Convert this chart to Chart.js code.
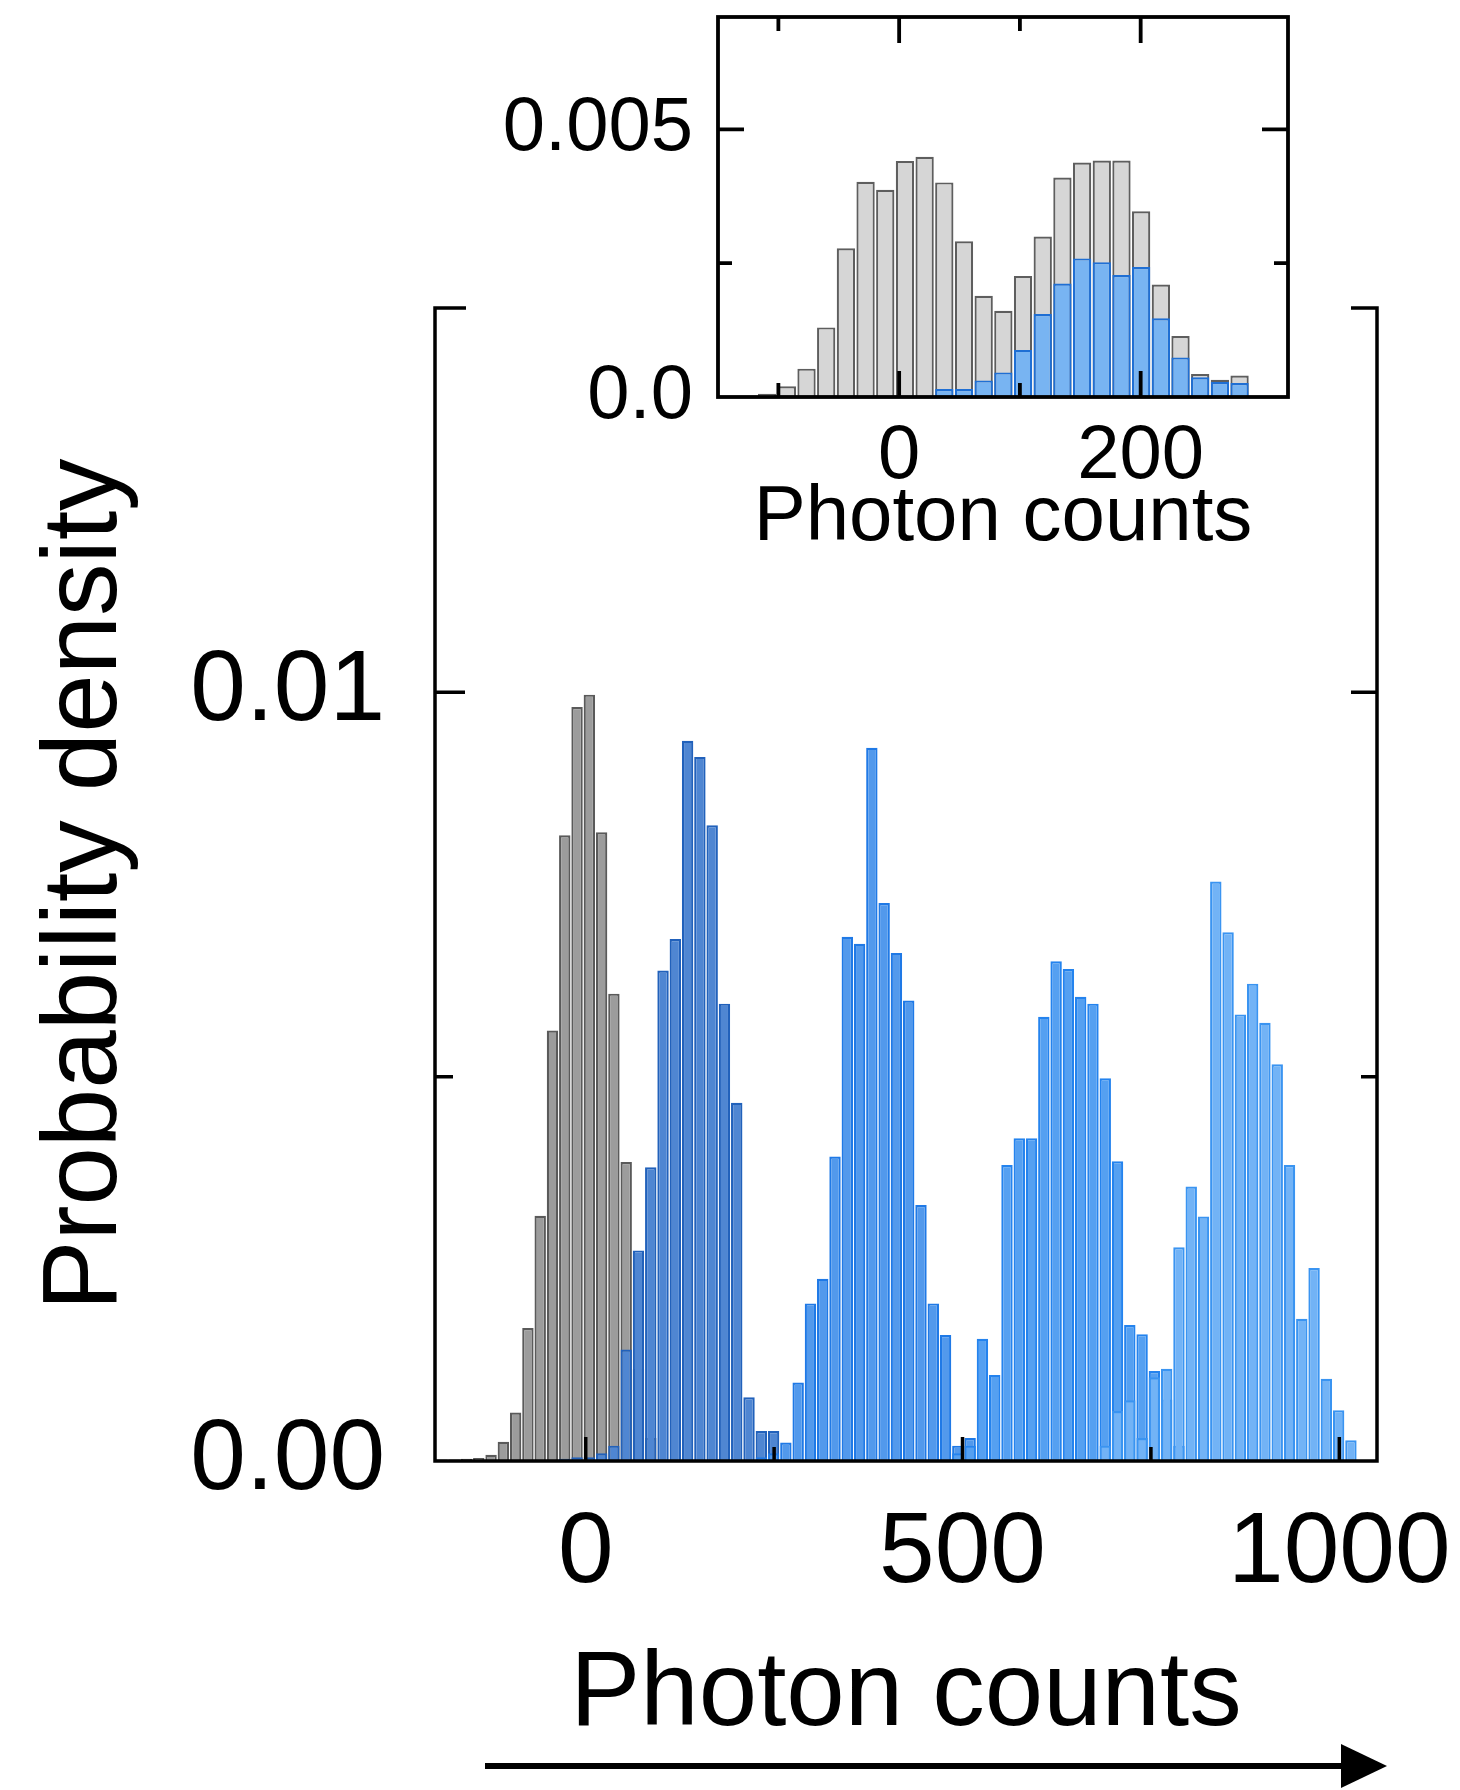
<!DOCTYPE html>
<html lang="en">
<head>
  <meta charset="UTF-8" />
  <title>Photon counts histogram</title>
  <script src="https://cdn.jsdelivr.net/npm/chart.js"></script>
  <style>
    body {
      margin: 0;
      background: #fff;
    }
    #wrap {
      position: relative;
      width: 1460px;
      height: 1790px;
    }
    #wrap canvas {
      position: absolute;
      left: 0;
      top: 0;
    }
  </style>
</head>
<body>

  <div id="wrap">
    <canvas id="mainChart" width="1460" height="1790"></canvas>
    <canvas id="insetChart" width="1460" height="600"></canvas>
  </div>

  <script>
    // histogram bins shared by every series: bin k is centred at binOrigin + k * binWidth
    const binOrigin = -11.5;
    const binWidth = 16.3;

    // main panel: first bin index of each series, then its densities
    const grayStart = -11;
    const grayDensity = [0.00002, 0.00002, 0.00003, 0.00004, 0.00008, 0.00025, 0.00063, 0.00173, 0.00319,
      0.0056, 0.00814, 0.00981, 0.00997, 0.00818, 0.00608, 0.00389, 0.0012, 0.0003];

    const blue1Start = -1;
    const blue1Density = [0.00003, 0.00005, 0.00005, 0.0001, 0.0002, 0.00145, 0.00274, 0.00382, 0.00638,
      0.00679, 0.00937, 0.00916, 0.00827, 0.00595, 0.00466, 0.00083, 0.00039, 0.00039];

    const blue2Start = 15;
    const blue2Density = [0.00005, 0.0001, 0.00024, 0.00102, 0.00205, 0.00237, 0.00396, 0.00682, 0.00673,
      0.00928, 0.00726, 0.00661, 0.00599, 0.00333, 0.00205, 0.00164, 0.0002, 0.0003];

    const blue3Start = 31;
    const blue3Density = [0.0001, 0.0002, 0.00159, 0.00112, 0.00385, 0.0042, 0.0042, 0.00578, 0.0065,
      0.0064, 0.00604, 0.00595, 0.00498, 0.0039, 0.00177, 0.00165, 0.00117, 0.0008, 0.0002];

    const blue4Start = 43;
    const blue4Density = [0.0002, 0.00065, 0.00079, 0.0003, 0.00109, 0.0012, 0.00278, 0.00357, 0.00318,
      0.00754, 0.00688, 0.00581, 0.00621, 0.0057, 0.00516, 0.00385, 0.00185, 0.00251, 0.00107, 0.00066, 0.00027];

    // inset panel
    const insetGrayStart = -6;
    const insetGrayDensity = [0.00006, 0.0002, 0.00053, 0.0013, 0.00278, 0.00402, 0.00387, 0.00441, 0.00449,
      0.00401, 0.00291, 0.00189, 0.00161, 0.00226, 0.003, 0.0041, 0.00438, 0.00442, 0.00442, 0.00347,
      0.0021, 0.00114, 0.00043, 0.00032, 0.0004];

    const insetBlueStart = 3;
    const insetBlueDensity = [0.00015, 0.00015, 0.00031, 0.00046, 0.00088, 0.00155, 0.00212, 0.00259,
      0.00252, 0.00228, 0.00243, 0.00147, 0.00074, 0.00037, 0.00028, 0.00026];

    // axes
    const mainXTicks = [0, 500, 1000];
    const mainXMinorTicks = [250, 750];
    const mainYTicks = [0, 0.01];
    const mainYTickLabels = ['0.00', '0.01'];
    const mainYMinorTicks = [0.005];
    const insetXTicks = [0, 200];
    const insetXMinorTicks = [-100, 100];
    const insetYTicks = [0, 0.005];
    const insetYTickLabels = ['0.0', '0.005'];
    const insetYMinorTicks = [0.0025];

    const FONT = "'Liberation Sans', Arial, sans-serif";

    function toPoints(start, values) {
      return values.map((v, i) => ({ x: binOrigin + (start + i) * binWidth, y: v }));
    }

    function histogram(start, values, fill, border, order) {
      return {
        data: toPoints(start, values),
        backgroundColor: fill,
        borderColor: border,
        borderWidth: 2.2,
        borderSkipped: 'bottom',
        grouped: false,
        barPercentage: 0.93,
        categoryPercentage: 1,
        order: order
      };
    }

    // keep chart areas where the figure has them: no label overhang padding
    function noOverhang(size, prop) {
      return s => {
        s[prop] = size;
        s.paddingLeft = 0;
        s.paddingRight = 0;
        s.paddingTop = 0;
        s.paddingBottom = 0;
      };
    }

    // inward tick marks, frame pieces and the arrow under the main panel
    const mainFrame = {
      id: 'mainFrame',
      afterDatasetsDraw(chart) {
        const { ctx, chartArea: a, scales: { x, y } } = chart;
        ctx.save();
        ctx.strokeStyle = '#000';
        ctx.lineWidth = 3.5;
        ctx.beginPath();
        ctx.moveTo(a.left + 31, a.top);
        ctx.lineTo(a.left, a.top);
        ctx.lineTo(a.left, a.bottom);
        ctx.lineTo(a.right, a.bottom);
        ctx.lineTo(a.right, a.top);
        ctx.lineTo(a.right - 26, a.top);
        mainYTicks.slice(1).forEach(v => {
          const py = y.getPixelForValue(v);
          ctx.moveTo(a.left, py); ctx.lineTo(a.left + 30, py);
          ctx.moveTo(a.right, py); ctx.lineTo(a.right - 26, py);
        });
        mainYMinorTicks.forEach(v => {
          const py = y.getPixelForValue(v);
          ctx.moveTo(a.left, py); ctx.lineTo(a.left + 18, py);
          ctx.moveTo(a.right, py); ctx.lineTo(a.right - 16, py);
        });
        mainXTicks.forEach(v => {
          const px = x.getPixelForValue(v);
          ctx.moveTo(px, a.bottom); ctx.lineTo(px, a.bottom - 24);
        });
        mainXMinorTicks.forEach(v => {
          const px = x.getPixelForValue(v);
          ctx.moveTo(px, a.bottom); ctx.lineTo(px, a.bottom - 14);
        });
        ctx.stroke();

        // arrow
        const ay = chart.height - 24;
        const tip = a.right + 10;
        ctx.lineWidth = 6;
        ctx.beginPath();
        ctx.moveTo(a.left + 50, ay);
        ctx.lineTo(tip - 40, ay);
        ctx.stroke();
        ctx.fillStyle = '#000';
        ctx.beginPath();
        ctx.moveTo(tip, ay);
        ctx.lineTo(tip - 46, ay - 22);
        ctx.lineTo(tip - 46, ay + 22);
        ctx.closePath();
        ctx.fill();
        ctx.restore();
      }
    };

    const insetFrame = {
      id: 'insetFrame',
      afterDatasetsDraw(chart) {
        const { ctx, chartArea: a, scales: { x, y } } = chart;
        ctx.save();
        ctx.strokeStyle = '#000';
        ctx.lineWidth = 3.8;
        ctx.strokeRect(a.left, a.top, a.right - a.left, a.bottom - a.top);
        ctx.beginPath();
        insetYTicks.slice(1).forEach(v => {
          const py = y.getPixelForValue(v);
          ctx.moveTo(a.left, py); ctx.lineTo(a.left + 26, py);
          ctx.moveTo(a.right, py); ctx.lineTo(a.right - 26, py);
        });
        insetYMinorTicks.forEach(v => {
          const py = y.getPixelForValue(v);
          ctx.moveTo(a.left, py); ctx.lineTo(a.left + 14, py);
          ctx.moveTo(a.right, py); ctx.lineTo(a.right - 14, py);
        });
        insetXTicks.forEach(v => {
          const px = x.getPixelForValue(v);
          ctx.moveTo(px, a.top); ctx.lineTo(px, a.top + 26);
          ctx.moveTo(px, a.bottom); ctx.lineTo(px, a.bottom - 26);
        });
        insetXMinorTicks.forEach(v => {
          const px = x.getPixelForValue(v);
          ctx.moveTo(px, a.top); ctx.lineTo(px, a.top + 14);
          ctx.moveTo(px, a.bottom); ctx.lineTo(px, a.bottom - 14);
        });
        ctx.stroke();
        ctx.restore();
      }
    };

    new Chart(document.getElementById('mainChart'), {
      type: 'bar',
      data: {
        datasets: [
          histogram(grayStart, grayDensity, '#9c9c9c', '#5a5a5a', 5),
          histogram(blue1Start, blue1Density, '#4f86d2', '#2161bb', 4),
          histogram(blue2Start, blue2Density, '#5299ec', '#1f79e6', 3),
          histogram(blue3Start, blue3Density, '#55a0f1', '#2483ee', 2),
          histogram(blue4Start, blue4Density, '#72b3f6', '#3a94f1', 1)
        ]
      },
      options: {
        responsive: false,
        animation: false,
        layout: { padding: { top: 308, right: 83, left: 0, bottom: 0 } },
        plugins: { legend: { display: false }, tooltip: { enabled: false } },
        scales: {
          x: {
            type: 'linear',
            min: -200,
            max: 1050,
            offset: false,
            grid: { display: false, drawTicks: false },
            border: { display: false },
            afterBuildTicks: s => { s.ticks = mainXTicks.map(v => ({ value: v })); },
            afterFit: noOverhang(329, 'height'),
            ticks: {
              padding: 33,
              color: '#000',
              font: { family: FONT, size: 100 },
              maxRotation: 0,
              callback: v => String(v)
            },
            title: {
              display: true,
              text: 'Photon counts',
              color: '#000',
              font: { family: FONT, size: 105 },
              padding: { bottom: 31 }
            }
          },
          y: {
            min: 0,
            max: 0.015,
            grid: { display: false, drawTicks: false },
            border: { display: false },
            afterBuildTicks: s => { s.ticks = mainYTicks.map(v => ({ value: v })); },
            afterFit: noOverhang(435, 'width'),
            ticks: {
              padding: 50,
              color: '#000',
              font: { family: FONT, size: 100 },
              callback: v => mainYTickLabels[mainYTicks.indexOf(v)]
            },
            title: {
              display: true,
              text: 'Probability density',
              color: '#000',
              font: { family: FONT, size: 105 },
              padding: { top: 24 }
            }
          }
        }
      },
      plugins: [mainFrame]
    });

    new Chart(document.getElementById('insetChart'), {
      type: 'bar',
      data: {
        datasets: [
          histogram(insetGrayStart, insetGrayDensity, '#d6d6d6', '#5e5e5e', 2),
          histogram(insetBlueStart, insetBlueDensity, '#78b4f2', '#1f6fd4', 1)
        ]
      },
      options: {
        responsive: false,
        animation: false,
        layout: { padding: { top: 17, right: 172, left: 0, bottom: 0 } },
        plugins: { legend: { display: false }, tooltip: { enabled: false } },
        scales: {
          x: {
            type: 'linear',
            min: -150,
            max: 322,
            offset: false,
            grid: { display: false, drawTicks: false },
            border: { display: false },
            afterBuildTicks: s => { s.ticks = insetXTicks.map(v => ({ value: v })); },
            afterFit: noOverhang(203, 'height'),
            ticks: {
              padding: 14,
              color: '#000',
              font: { family: FONT, size: 76 },
              maxRotation: 0,
              callback: v => String(v)
            },
            title: {
              display: true,
              text: 'Photon counts',
              color: '#000',
              font: { family: FONT, size: 78 },
              padding: { bottom: 35 }
            }
          },
          y: {
            min: 0,
            max: 0.0071,
            grid: { display: false, drawTicks: false },
            border: { display: false },
            afterBuildTicks: s => { s.ticks = insetYTicks.map(v => ({ value: v })); },
            afterFit: noOverhang(718, 'width'),
            ticks: {
              padding: 25,
              color: '#000',
              font: { family: FONT, size: 76 },
              callback: v => insetYTickLabels[insetYTicks.indexOf(v)]
            }
          }
        }
      },
      plugins: [insetFrame]
    });
  </script>

</body>
</html>
